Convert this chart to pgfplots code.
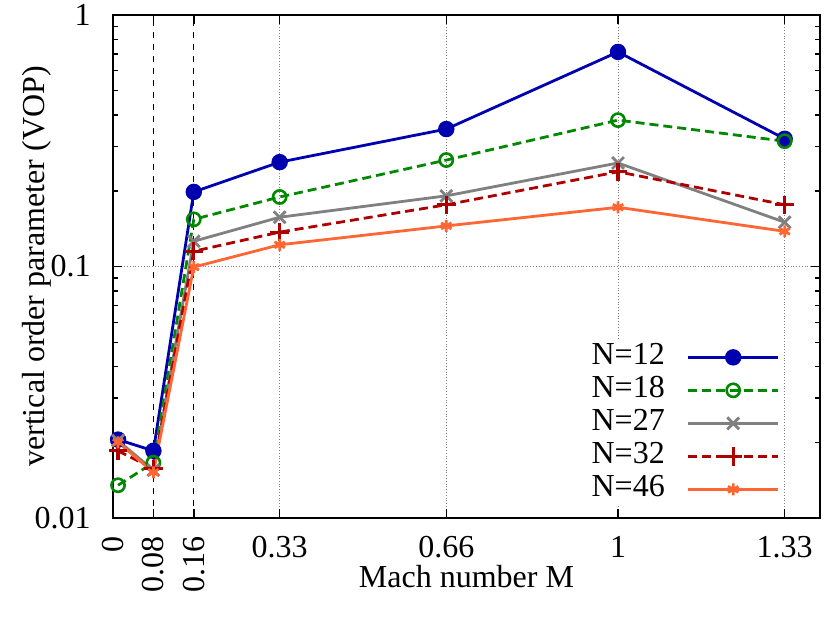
\documentclass[border=0pt]{standalone}
\usepackage{fontspec}
\setmainfont{Liberation Serif}
\usepackage{pgfplots}
\pgfplotsset{compat=1.18}
\usetikzlibrary{calc}
\definecolor{cblue}{RGB}{0,0,175}
\definecolor{cgreen}{RGB}{0,136,0}
\definecolor{cgray}{RGB}{128,128,128}
\definecolor{cred}{RGB}{175,0,0}
\definecolor{corange}{RGB}{255,102,51}
\begin{document}
\fontsize{16}{19}\selectfont
\begin{tikzpicture}
\begin{axis}[
  scale only axis, width=353.5pt, height=251.5pt,
  xmin=0, xmax=1.4, ymin=0.01, ymax=1, ymode=log,
  xtick={0,0.33,0.66,1,1.33},
  xticklabels={\rotatebox{90}{0},0.33,0.66,1,1.33},
  extra x ticks={0.08,0.16},
  extra x tick labels={\rotatebox{90}{0.08},\rotatebox{90}{0.16}},
  extra x tick style={grid=none},
  ytick={0.01,0.1,1}, yticklabels={0.01,0.1,1},
  minor ytick={0.02,0.03,0.04,0.05,0.06,0.07,0.08,0.09,0.2,0.3,0.4,0.5,0.6,0.7,0.8,0.9},
  xmajorgrids, ymajorgrids,
  major grid style={densely dotted, gray, line width=0.5pt},
  tick style={black, line width=0.7pt},
  major tick length=4.5pt, minor tick length=2.5pt,
  axis line style={line width=1pt},
  ticklabel style={font=\fontsize{16}{19}\selectfont},
  xticklabel style={yshift=-7pt, inner sep=2pt},
  yticklabel style={xshift=-5.7pt},
  xlabel={Mach number M},
  ylabel={vertical order parameter (VOP)},
  label style={font=\fontsize{16}{19}\selectfont},
  xlabel style={at={(axis description cs:0.5,-0.139)}, anchor=base, inner sep=1pt},
  ylabel style={at={(axis description cs:-0.0962,0.5)}, anchor=base},
  legend plot pos=right,
  legend cell align=right,
  legend image code/.code={\draw[mark repeat=2,mark phase=2] plot coordinates {(0pt,0pt)(22.5pt,0pt)(45pt,0pt)};},
  legend style={at={(0.9434,0.353)}, anchor=north east, fill=white, draw=none,
    inner sep=0pt, font=\fontsize{16}{19}\selectfont,
    nodes={inner sep=1pt, text height=11pt, text depth=3.5pt},
    row sep=0pt, column sep=10pt},
]
\addplot[black, line width=0.6pt, dash pattern=on 3pt off 3pt, forget plot] coordinates {(0.08,0.01) (0.08,1)};
\addplot[black, line width=0.6pt, dash pattern=on 3pt off 3pt, forget plot] coordinates {(0.16,0.01) (0.16,1)};

\addplot[cblue, line width=1.4pt, mark=*, mark size=3.4pt, mark options={solid, fill=cblue}]
 coordinates {(0.01,0.0205) (0.08,0.0185) (0.16,0.198) (0.33,0.260) (0.66,0.352) (1,0.713) (1.33,0.322)};
\addlegendentry{N=12}
\addplot[cgreen, line width=1.4pt, dash pattern=on 4.5pt off 2.5pt, mark=o, mark size=3.3pt, mark options={solid, line width=1.3pt}]
 coordinates {(0.01,0.0135) (0.08,0.0166) (0.16,0.154) (0.33,0.189) (0.66,0.265) (1,0.382) (1.33,0.315)};
\addlegendentry{N=18}
\addplot[cgray, line width=1.4pt, mark=x, mark size=4.2pt, mark options={solid, line width=1.4pt}]
 coordinates {(0.01,0.0203) (0.08,0.0155) (0.16,0.126) (0.33,0.157) (0.66,0.191) (1,0.258) (1.33,0.150)};
\addlegendentry{N=27}
\addplot[cred, line width=1.4pt, dash pattern=on 4.5pt off 2.5pt, mark=+, mark size=4.6pt, mark options={solid, line width=1.6pt}]
 coordinates {(0.01,0.0185) (0.08,0.0157) (0.16,0.115) (0.33,0.137) (0.66,0.176) (1,0.238) (1.33,0.176)};
\addlegendentry{N=32}
\addplot[corange, line width=1.4pt, mark=asterisk, mark size=3pt, mark options={solid, line width=1.4pt}]
 coordinates {(0.01,0.0200) (0.08,0.0152) (0.16,0.0995) (0.33,0.122) (0.66,0.145) (1,0.172) (1.33,0.138)};
\addlegendentry{N=46}
\end{axis}
\pgfresetboundingbox
\path ($(current axis.south west)+(-56.5pt,-52pt)$) rectangle ($(current axis.north east)+(4.5pt,7.5pt)$);
\end{tikzpicture}
\end{document}
